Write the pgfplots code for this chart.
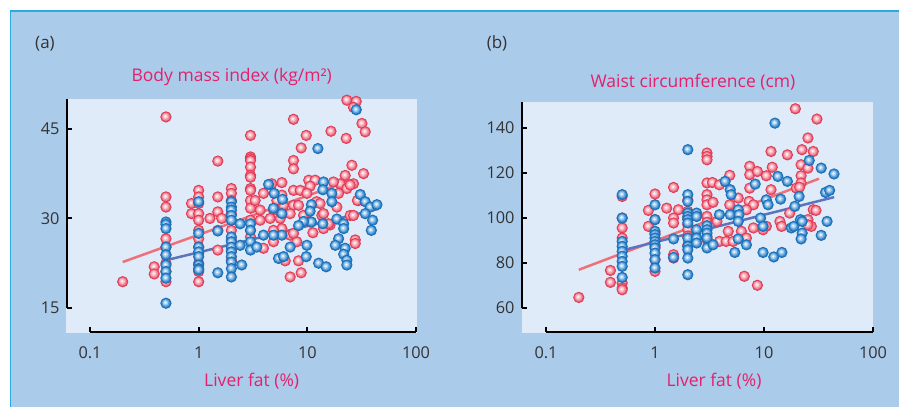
\documentclass[border=0pt]{standalone}
\usepackage{fontspec}
\setmainfont{Open Sans}
\usepackage{pgfplots}
\usepackage{pgfplotstable}
\pgfplotsset{compat=1.18}
\definecolor{bgblue}{HTML}{ABCBEA}
\definecolor{plotbg}{HTML}{DFEBF8}
\definecolor{bordercyan}{HTML}{29ABE2}
\definecolor{titlepink}{HTML}{E5206A}
\definecolor{pinkedge}{HTML}{E03A55}
\definecolor{blueedge}{HTML}{1A6FB6}
\definecolor{pinkline}{HTML}{F07078}
\definecolor{blueline}{HTML}{5C74BE}
\definecolor{txtgray}{HTML}{333333}
\definecolor{pk1}{HTML}{EA5C72}
\definecolor{pk2}{HTML}{F38E9E}
\definecolor{pk3}{HTML}{F9C0C9}
\definecolor{pk4}{HTML}{FEEDF0}
\definecolor{bl1}{HTML}{2A7CC3}
\definecolor{bl2}{HTML}{5FA3DC}
\definecolor{bl3}{HTML}{A3CBEC}
\definecolor{bl4}{HTML}{E4F1FB}

\pgfdeclareplotmark{pball}{%
  \pgfsetstrokecolor{pinkedge}\pgfsetlinewidth{0.8pt}\pgfsetfillcolor{pk1}%
  \pgfpathcircle{\pgfpointorigin}{\pgfplotmarksize}\pgfusepath{fill,stroke}%
  \pgfsetfillcolor{pk2}\pgfpathcircle{\pgfpoint{-0.04\pgfplotmarksize}{0.04\pgfplotmarksize}}{0.76\pgfplotmarksize}\pgfusepath{fill}%
  \pgfsetfillcolor{pk3}\pgfpathcircle{\pgfpoint{-0.08\pgfplotmarksize}{0.08\pgfplotmarksize}}{0.52\pgfplotmarksize}\pgfusepath{fill}%
  \pgfsetfillcolor{pk4}\pgfpathcircle{\pgfpoint{-0.1\pgfplotmarksize}{0.1\pgfplotmarksize}}{0.28\pgfplotmarksize}\pgfusepath{fill}}
\pgfdeclareplotmark{bball}{%
  \pgfsetstrokecolor{blueedge}\pgfsetlinewidth{0.8pt}\pgfsetfillcolor{bl1}%
  \pgfpathcircle{\pgfpointorigin}{\pgfplotmarksize}\pgfusepath{fill,stroke}%
  \pgfsetfillcolor{bl2}\pgfpathcircle{\pgfpoint{-0.04\pgfplotmarksize}{0.04\pgfplotmarksize}}{0.76\pgfplotmarksize}\pgfusepath{fill}%
  \pgfsetfillcolor{bl3}\pgfpathcircle{\pgfpoint{-0.08\pgfplotmarksize}{0.08\pgfplotmarksize}}{0.52\pgfplotmarksize}\pgfusepath{fill}%
  \pgfsetfillcolor{bl4}\pgfpathcircle{\pgfpoint{-0.1\pgfplotmarksize}{0.1\pgfplotmarksize}}{0.28\pgfplotmarksize}\pgfusepath{fill}}

\pgfplotstableread{
x y
0.2 19.4
0.5 47.0
0.5 33.6
0.5 31.9
0.5 26.6
0.5 25.2
0.5 23.9
0.5 22.5
0.5 21.1
0.5 19.4
0.39 21.9
0.39 20.7
0.86 32.5
0.86 30.8
1 34.7
1 33.6
1 32.5
1 30.8
1 29.7
1 28.0
1 26.6
1 25.2
1 24.1
1 22.5
1 21.1
1 19.4
1.5 39.6
1.5 33.6
1.5 31.1
1.5 28.0
1.5 24.7
1.27 30.0
1.63 30.0
2 35.0
2 34.2
2 33.0
2 30.8
2 29.7
2 28.0
2 26.4
2 24.7
2 23.0
3 43.9
3 40.3
3 40.0
3 39.7
3 38.6
3 37.2
3 36.9
3 35.0
3 34.7
3 33.0
3 31.7
3 29.7
3 28.0
3 26.9
23.1 49.8
28.2 49.6
26.6 48.6
7.46 46.6
9.77 43.9
16.5 44.6
22.8 43.4
31.8 45.9
34.1 44.5
8.78 41.8
7.46 39.7
7.46 38.3
25.7 38.9
32.9 37.5
22.3 37.2
20.1 35.8
26.6 35.8
23.1 35.0
5.83 36.0
4.71 35.8
10.3 36.4
11.8 36.4
10.6 35.4
7.46 34.7
8.6 34.7
9.91 34.2
3.95 34.2
3.31 33.0
5.83 33.9
6.04 32.2
7.46 32.2
8.3 32.2
12.2 32.8
19.4 34.2
29.6 33.0
18.7 31.9
3.68 31.4
4.88 31.4
13.6 30.5
16.2 28.9
24.8 30.5
26.6 30.5
3.68 29.7
4.55 30.0
5.63 30.0
9.23 30.5
11.25 27.6
5.83 28.3
6.95 27.2
4.88 26.1
3.95 25.0
8.0 26.1
27.6 26.4
27.6 25.8
14.1 28.3
6.26 22.9
8.3 22.9
6.95 20.2
8.78 20.9
14.1 30.8
15.7 29.1
4.88 28.0
5.24 33.0
6.95 30.8
13.1 32.5
10.6 29.4
7.46 27.5
17.4 36.1
24.8 35.6
28.9 33.0
}\pinkA

\pgfplotstableread{
x y
0.5 29.4
0.5 29.0
0.5 28.3
0.5 25.2
0.5 23.9
0.5 22.2
0.5 21.1
0.5 20.0
0.5 15.8
1 32.8
1 27.5
1 25.2
1 24.4
1 23.6
1 22.2
1 21.6
1 21.4
1.5 27.9
1.5 20.9
2 32.8
2 31.9
2 31.4
2 30.5
2 29.7
2 26.9
2 26.1
2 25.2
2 24.4
2 23.6
2 22.7
2 21.6
2 20.2
2.41 29.1
2.41 25.5
2.49 22.2
3 29.1
3 28.0
3 26.1
3 24.7
3.43 25.2
28.2 48.2
12.5 41.7
4.4 35.7
4.95 34.2
5.91 33.2
4.88 31.7
5.83 30.8
14.1 36.1
13.9 34.8
16.8 34.2
16.8 32.8
10.9 32.3
10.6 31.2
30.7 34.0
34.1 32.8
37.9 31.9
43.7 32.3
34.1 30.8
39.9 29.7
38.8 28.0
18.7 29.9
21.6 29.1
21.6 28.3
13.9 29.1
10.9 29.4
9.23 29.5
8.3 28.8
9.91 25.5
9.77 23.6
6.95 25.2
5.83 27.2
4.88 27.2
3.95 27.2
5.43 23.3
6.04 23.6
12.7 22.5
14.9 21.9
19.4 26.6
18.1 25.5
22.3 25.0
21.6 24.0
23.1 23.0
23.1 22.2
}\blueA

\pgfplotstableread{
x y
0.2 64.7
0.39 76.7
0.39 71.4
0.5 109.6
0.5 100.0
0.5 95.6
0.5 91.1
0.5 71.1
0.5 68.9
0.5 68.1
0.87 103.4
0.87 96.3
1 110.7
1 99.3
1 93.3
1 87.4
1 81.5
1 76.3
1.28 104.4
1.48 113.6
1.64 103.7
1.48 100.0
1.48 97.8
1.48 83.7
1.48 82.2
2 108
2 103
2 100
2 97
2 95
2 92
2 88
3 128.9
3 127.4
3 125.9
3 115.6
3 110.4
3 108.1
3 105.9
3 100.7
3 98.1
3 90.4
3.36 115.8
3.9 114.8
3.41 107.0
3.7 98.5
3.9 89.6
4.7 94.1
4.85 119.0
5.8 108.9
5.5 102.2
6.2 94.1
6.9 91.1
6.6 74.1
8.7 70.1
7.4 123.0
7.4 119.3
7.4 113.3
7.3 107.4
8.0 105.9
8.7 120.7
10.5 118.8
11.9 122.6
11.6 129.6
11.6 112.6
16.4 128.1
19.4 148.6
30.6 144.0
25.3 135.6
22.3 130.4
28.3 129.6
21.9 123.7
25.3 122.2
21.9 118.8
21.9 115.6
19.8 113.3
21.2 113.7
17.2 102.2
28.3 103.7
30.0 103.4
25.3 99.3
27.2 96.3
25.3 97.0
14.0 98.5
14.5 96.3
10.5 96.3
9.8 94.8
8.0 95.6
6.9 103.7
4.85 105.9
4.5 89.6
5.2 89.6
3.0 91.9
}\pinkB

\pgfplotstableread{
x y
0.5 110.4
0.5 100.0
0.5 89.6
0.5 87.4
0.5 85.2
0.5 83.0
0.5 80.7
0.5 78.5
0.5 73.6
1 105.9
1 99.3
1 94.1
1 92.6
1 91.1
1 89.6
1 88.1
1 86.7
1 84.4
1 81.5
1 77.8
1.48 90.7
1.48 82.5
2 130.4
2 110.4
2 107.4
2 102.2
2 100.7
2 99.3
2 97.8
2 91.1
2 87.4
2 85.9
2 82.2
2 74.8
2.41 102.2
2.41 100.7
2.41 94.8
2.41 91.1
2.41 88.9
3 96.6
3 94.8
3 93.3
3 91.1
3 86.7
3.41 88.1
3.9 101.5
4.4 116.3
4.9 112.6
5.0 110.4
4.9 101.5
5.4 84.7
5.8 103.7
5.9 101.5
5.8 98.5
5.8 90.7
6.9 88.1
8.3 115.1
9.3 100.0
9.8 96.3
9.8 84.7
10.5 108.1
10.9 105.9
12.6 142.2
12.3 82.7
13.4 118.5
14.2 108.4
14.6 84.7
16.4 116.3
17.8 95.6
18.8 96.3
19.2 105.2
21.0 109.6
21.6 99.3
22.4 98.5
22.4 93.3
21.9 90.7
26.0 125.6
33.5 122.2
43.9 119.6
36.7 111.4
40.0 112.3
37.9 98.5
33.5 92.3
}\blueB

\begin{document}
\begin{tikzpicture}
\useasboundingbox (0pt,0pt) rectangle (899pt,407pt);
\fill[white] (0pt,0pt) rectangle (899pt,407pt);
\fill[bgblue] (11pt,0pt) rectangle (899pt,395.5pt);
\draw[bordercyan, line width=1.8pt] (10.5pt,0pt) -- (10.5pt,396pt) -- (899pt,396pt);
\fill[plotbg] (66pt,74pt) rectangle (417pt,308pt);
\fill[plotbg] (522pt,74pt) rectangle (873pt,305pt);

\node[font=\fontsize{17}{20}\selectfont, text=txtgray] at (45pt,363.5pt) {(a)};
\node[font=\fontsize{17}{20}\selectfont, text=txtgray] at (497pt,363.5pt) {(b)};
\node[anchor=base, font=\fontsize{17.5}{20}\selectfont, text=titlepink] at (231.7pt,325.3pt) {Body mass index (kg/m²)};
\node[anchor=base, font=\fontsize{17.5}{20}\selectfont, text=titlepink] at (693pt,319.7pt) {Waist circumference (cm)};
\node[anchor=base, font=\fontsize{17.5}{20}\selectfont, text=titlepink] at (251.7pt,20.3pt) {Liver fat (\%)};
\node[anchor=base, font=\fontsize{17.5}{20}\selectfont, text=titlepink] at (714pt,20.3pt) {Liver fat (\%)};

\begin{semilogxaxis}[at={(90pt,99pt)}, anchor=south west,
    scale only axis, width=326pt, height=209pt,
    xmin=0.1, xmax=100, ymin=15, ymax=50,
    axis lines*=left,
    x axis line style={line width=2pt, black, yshift=-23.5pt},
    y axis line style={line width=2pt, black, xshift=-23pt},
    xtick={0.1,1,10,100}, xticklabels={0.1,1,10,100},
    ytick={15,30,45}, yticklabels={15,30,45},
    xminorticks=false, yminorticks=false,
    tick align=inside, major tick length=5pt,
    xtick style={line width=2pt, black, yshift=-23.5pt},
    ytick style={line width=2pt, black, xshift=-23pt},
    tick label style={font=\fontsize{16.3}{19}\selectfont, text=txtgray},
    xticklabel style={yshift=-35pt},
    yticklabel style={xshift=-27pt},
    clip=false]
\addplot[only marks, mark=pball, mark size=5.2pt] table {\pinkA};
\addplot[pinkline, line width=2.5pt] coordinates {(0.2,22.7) (25,36.4)};
\addplot[blueline, line width=2.5pt] coordinates {(0.5,23.0) (45,31.6)};
\addplot[only marks, mark=bball, mark size=5.2pt] table {\blueA};
\end{semilogxaxis}

\begin{semilogxaxis}[at={(546pt,99pt)}, anchor=south west,
    scale only axis, width=327pt, height=206pt,
    xmin=0.1, xmax=100, ymin=60, ymax=151.6,
    axis lines*=left,
    x axis line style={line width=2pt, black, yshift=-23.5pt},
    y axis line style={line width=2pt, black, xshift=-24pt},
    xtick={0.1,1,10,100}, xticklabels={0.1,1,10,100},
    ytick={60,80,100,120,140}, yticklabels={60,80,100,120,140},
    xminorticks=false, yminorticks=false,
    tick align=inside, major tick length=5pt,
    xtick style={line width=2pt, black, yshift=-23.5pt},
    ytick style={line width=2pt, black, xshift=-24pt},
    tick label style={font=\fontsize{16.3}{19}\selectfont, text=txtgray},
    xticklabel style={yshift=-35pt},
    yticklabel style={xshift=-28pt},
    clip=false]
\addplot[only marks, mark=pball, mark size=5.2pt] table {\pinkB};
\addplot[pinkline, line width=2.5pt] coordinates {(0.2,77.0) (32,117.5)};
\addplot[blueline, line width=2.5pt] coordinates {(0.5,85.6) (44,109.3)};
\addplot[only marks, mark=bball, mark size=5.2pt] table {\blueB};
\end{semilogxaxis}
\end{tikzpicture}
\end{document}
